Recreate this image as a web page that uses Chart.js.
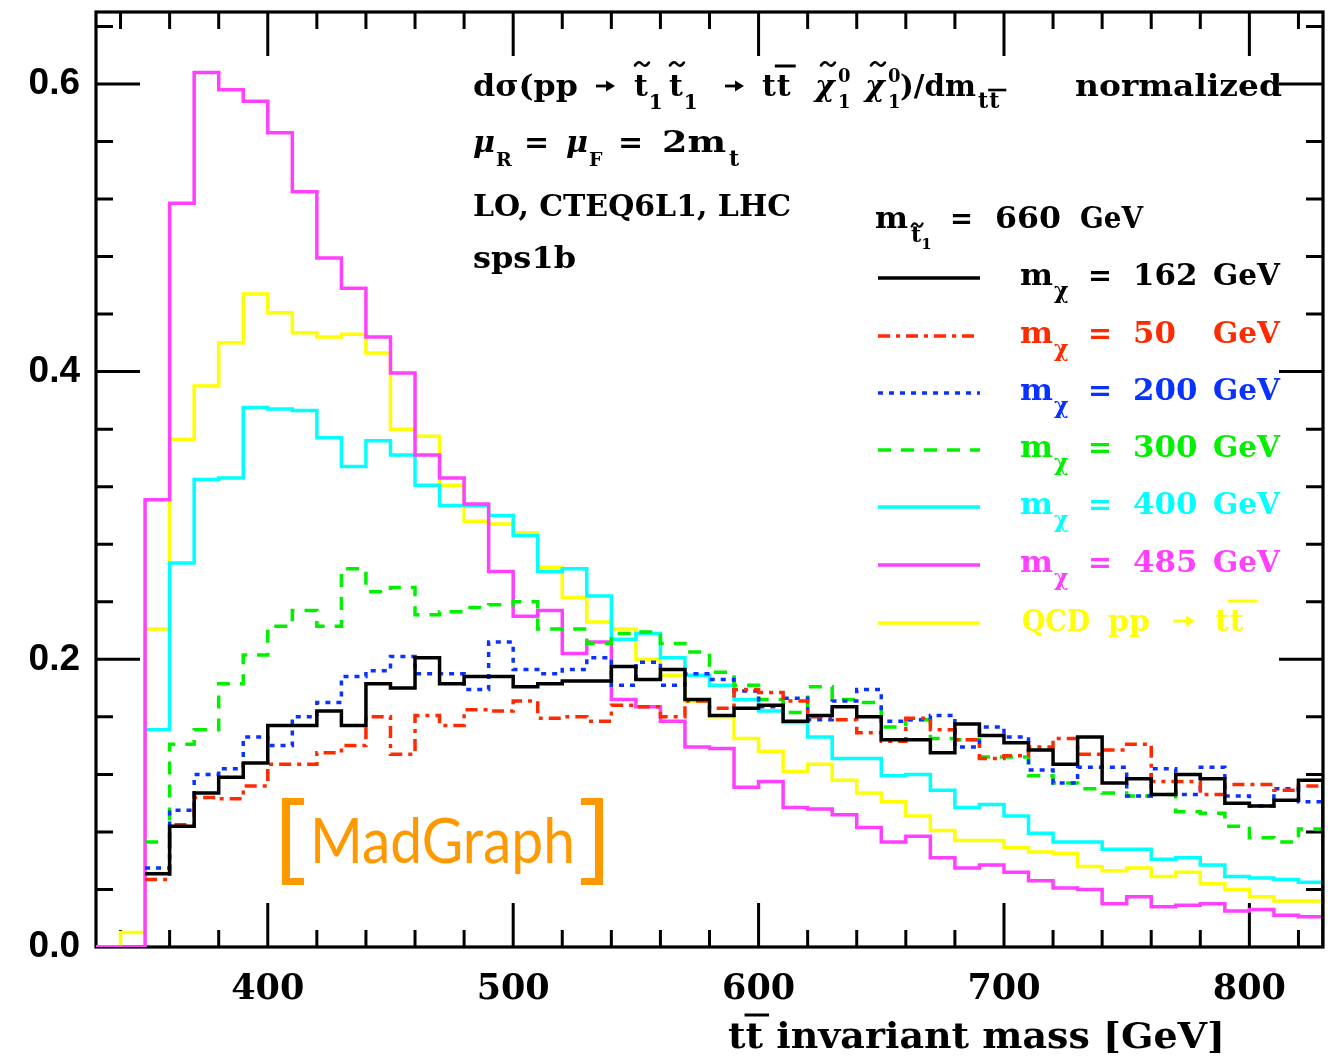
<!DOCTYPE html>
<html>
<head>
<meta charset="utf-8">
<title>tt invariant mass</title>
<script src="https://cdn.jsdelivr.net/npm/chart.js@4.4.1/dist/chart.umd.min.js"></script>
<style>
html,body{margin:0;padding:0;background:#fff;}
#c{display:block;}
</style>
</head>
<body>
<canvas id="c" width="1328" height="1060"></canvas>
<script>
// ---------------- data ----------------
const binLowEdges = [330,340,350,360,370,380,390,400,410,420,430,440,450,460,470,480,490,500,510,520,530,540,550,560,570,580,590,600,610,620,630,640,650,660,670,680,690,700,710,720,730,740,750,760,770,780,790,800,810,820];
const lastBinHighEdge = 830;

const mchi162 = [null,null,0.051,0.084,0.107,0.118,0.128,0.154,0.154,0.164,0.154,0.183,0.180,0.201,0.183,0.188,0.188,0.181,0.183,0.185,0.185,0.195,0.186,0.193,0.172,0.161,0.166,0.168,0.157,0.161,0.167,0.160,0.144,0.144,0.135,0.155,0.147,0.142,0.137,0.127,0.146,0.114,0.117,0.106,0.120,0.117,0.100,0.098,0.102,0.116];
const mchi50  = [null,null,0.047,0.085,0.104,0.103,0.112,0.127,0.127,0.135,0.140,0.160,0.134,0.161,0.154,0.165,0.164,0.171,0.159,0.160,0.157,0.168,0.167,0.160,0.171,0.166,0.179,0.177,0.171,0.160,0.158,0.149,0.143,0.159,0.151,0.144,0.131,0.133,0.139,0.145,0.134,0.137,0.141,0.115,0.115,0.106,0.113,0.113,0.109,0.112];
const mchi200 = [null,null,0.055,0.095,0.120,0.124,0.146,0.140,0.160,0.170,0.188,0.192,0.202,0.190,0.190,0.179,0.212,0.193,0.190,0.193,0.201,0.182,0.198,0.182,0.190,0.186,0.178,0.167,0.173,0.158,0.171,0.179,0.157,0.158,0.161,0.139,0.153,0.146,0.123,0.114,0.125,0.125,0.105,0.124,0.106,0.125,0.105,0.098,0.110,0.101];
const mchi300 = [null,null,0.073,0.141,0.151,0.183,0.203,0.223,0.234,0.223,0.263,0.247,0.250,0.231,0.233,0.236,0.238,0.240,0.221,0.221,0.211,0.218,0.219,0.211,0.205,0.191,0.182,0.172,0.163,0.181,0.172,0.170,0.153,0.158,0.145,0.144,0.132,0.132,0.119,0.114,0.110,0.107,0.105,0.106,0.094,0.093,0.084,0.076,0.073,0.082];
const mchi400 = [null,null,0.151,0.267,0.325,0.326,0.375,0.374,0.373,0.354,0.334,0.352,0.342,0.321,0.307,0.307,0.300,0.286,0.261,0.263,0.244,0.214,0.218,0.201,0.189,0.182,0.172,0.164,0.156,0.146,0.131,0.131,0.119,0.120,0.109,0.097,0.099,0.091,0.079,0.073,0.073,0.068,0.068,0.061,0.062,0.057,0.049,0.048,0.047,0.045];
const mchi485 = [0,0,0.311,0.517,0.608,0.596,0.588,0.566,0.525,0.479,0.458,0.424,0.399,0.342,0.326,0.308,0.261,0.230,0.234,0.204,0.212,0.172,0.167,0.157,0.139,0.138,0.111,0.115,0.097,0.096,0.092,0.083,0.073,0.077,0.062,0.055,0.057,0.052,0.046,0.041,0.040,0.030,0.035,0.028,0.029,0.030,0.025,0.026,0.022,0.021];
const qcdTT   = [0,0.010,0.221,0.353,0.390,0.420,0.454,0.441,0.427,0.424,0.426,0.413,0.360,0.355,0.321,0.296,0.294,0.288,0.264,0.243,0.226,0.221,0.200,0.189,0.171,0.160,0.145,0.136,0.122,0.127,0.116,0.107,0.101,0.091,0.081,0.074,0.074,0.069,0.066,0.065,0.056,0.053,0.055,0.049,0.052,0.044,0.040,0.035,0.032,0.032];

const xTickValues = [400,500,600,700,800];
const yTickValues = [0.0,0.2,0.4,0.6];
const legendMasses = ['162','50','200','300','400','485'];

// ---------------- helpers ----------------
function histPoints(vals){
  const pts = [];
  for (let i = 0; i < binLowEdges.length; i++) pts.push({x: binLowEdges[i], y: vals[i]});
  pts.push({x: lastBinHighEdge, y: 0});
  return pts;
}

const series = [
  {vals: mchi162, color: '#000000', dash: [],            order: 0},
  {vals: mchi50,  color: '#ff2a00', dash: [12, 6, 4, 6], order: 1},
  {vals: mchi200, color: '#0a32ff', dash: [5, 6],        order: 2},
  {vals: mchi300, color: '#00f000', dash: [13, 10],      order: 3},
  {vals: mchi400, color: '#00ffff', dash: [],            order: 5},
  {vals: mchi485, color: '#ff40ff', dash: [],            order: 4},
  {vals: qcdTT,   color: '#ffff00', dash: [],            order: 6}
];

const SERIF = '"DejaVu Serif", "Liberation Serif", serif';

function txt(ctx, s, x, y, o){
  o = o || {};
  const size = o.size || 30;
  ctx.save();
  ctx.font = (o.style || 'normal') + ' ' + (o.weight || 'bold') + ' ' + size + 'px ' + (o.family || SERIF);
  ctx.fillStyle = o.color || '#000';
  ctx.textAlign = 'left';
  ctx.textBaseline = 'alphabetic';
  const w0 = ctx.measureText(s).width;
  const sx = o.width ? o.width / w0 : (o.sx || 1);
  ctx.translate(x, y);
  ctx.scale(sx, 1);
  ctx.fillText(s, 0, 0);
  ctx.restore();
  return w0 * sx;
}
function tilde(ctx, cx, cy, w, color, lw){
  ctx.save();
  ctx.strokeStyle = color || '#000';
  ctx.lineWidth = lw || 2.6;
  ctx.lineCap = 'round';
  ctx.beginPath();
  ctx.moveTo(cx - w/2, cy + 1.5);
  ctx.quadraticCurveTo(cx - w/4, cy - 4, cx, cy);
  ctx.quadraticCurveTo(cx + w/4, cy + 4, cx + w/2, cy - 1.5);
  ctx.stroke();
  ctx.restore();
}
function bar(ctx, x1, x2, yy, color, lw){
  ctx.save();
  ctx.strokeStyle = color || '#000';
  ctx.lineWidth = lw || 3;
  ctx.beginPath(); ctx.moveTo(x1, yy); ctx.lineTo(x2, yy); ctx.stroke();
  ctx.restore();
}
function arrow(ctx, x, yy, w, color){
  ctx.save();
  ctx.strokeStyle = color || '#000';
  ctx.fillStyle = color || '#000';
  ctx.lineWidth = 2.8;
  ctx.beginPath(); ctx.moveTo(x, yy); ctx.lineTo(x + w - 6, yy); ctx.stroke();
  ctx.beginPath(); ctx.moveTo(x + w - 9, yy - 5.5); ctx.lineTo(x + w, yy); ctx.lineTo(x + w - 9, yy + 5.5); ctx.closePath(); ctx.fill();
  ctx.restore();
}

// ---------------- decoration plugin ----------------
const decoPlugin = {
  id: 'deco',
  beforeDatasetsDraw(chart){
    const ctx = chart.ctx;
    const {left, right, top, bottom} = chart.chartArea;
    const xs = chart.scales.x, ys = chart.scales.y;
    ctx.save();
    ctx.strokeStyle = '#000';
    ctx.lineWidth = 3.2;
    ctx.strokeRect(left, top, right - left, bottom - top);
    ctx.lineWidth = 3;
    ctx.beginPath();
    for (let v = 340; v < lastBinHighEdge; v += 20){
      const p = xs.getPixelForValue(v);
      const L = xTickValues.includes(v) ? 44 : 17;
      ctx.moveTo(p, bottom); ctx.lineTo(p, bottom - L);
      ctx.moveTo(p, top); ctx.lineTo(p, top + L);
    }
    for (let k = 1; k <= 16; k++){
      const p = ys.getPixelForValue(k * 0.04);
      const L = (k % 5 === 0) ? 44 : 17;
      ctx.moveTo(left, p); ctx.lineTo(left + L, p);
      ctx.moveTo(right, p); ctx.lineTo(right - L, p);
    }
    ctx.stroke();
    ctx.restore();
  },
  afterDatasetsDraw(chart){
    const ctx = chart.ctx;
    // ---- title line 1 ----
    let y1 = 96, w;
    txt(ctx, 'dσ(pp', 473, y1, {width: 105});
    arrow(ctx, 596, 86, 19);
    w = txt(ctx, 't', 634, y1); tilde(ctx, 634 + w/2 + 1, 64, 14); txt(ctx, '1', 634 + w + 1, 109, {size: 20});
    w = txt(ctx, 't', 669, y1); tilde(ctx, 669 + w/2 + 1, 64, 14); txt(ctx, '1', 669 + w + 1, 109, {size: 20});
    arrow(ctx, 725, 86, 19);
    w = txt(ctx, 't', 762, y1); txt(ctx, 't', 762 + w + 1, y1); bar(ctx, 762 + w - 1, 762 + 2*w + 6, 66);
    txt(ctx, 'χ', 815, y1, {style: 'italic'}); tilde(ctx, 828, 64, 14); txt(ctx, '0', 838, 82, {size: 18}); txt(ctx, '1', 838, 108, {size: 18});
    txt(ctx, 'χ', 865, y1, {style: 'italic'}); tilde(ctx, 878, 64, 14); txt(ctx, '0', 888, 82, {size: 18}); txt(ctx, '1', 888, 108, {size: 18});
    txt(ctx, ')/dm', 900, y1, {width: 76});
    w = txt(ctx, 't', 978, 108, {size: 22}); txt(ctx, 't', 978 + w + 1, 108, {size: 22}); bar(ctx, 978 + w, 978 + 2*w + 8, 90, '#000', 2.6);
    txt(ctx, 'normalized', 1075, y1, {width: 207});
    // ---- line 2 ----
    const y2 = 152;
    txt(ctx, 'μ', 473, y2, {style: 'italic'}); txt(ctx, 'R', 496, 166, {size: 19});
    txt(ctx, '=', 524, y2);
    txt(ctx, 'μ', 566, y2, {style: 'italic'}); txt(ctx, 'F', 589, 166, {size: 19});
    txt(ctx, '=', 618, y2);
    txt(ctx, '2m', 662, y2, {width: 64});
    txt(ctx, 't', 729, 166, {size: 22});
    // ---- lines 3, 4 ----
    txt(ctx, 'LO, CTEQ6L1, LHC', 473, 216, {width: 318});
    txt(ctx, 'sps1b', 473, 268, {width: 103});
    // ---- stop mass ----
    txt(ctx, 'm', 875, 228, {width: 33});
    w = txt(ctx, 't', 911, 242, {size: 22}); tilde(ctx, 911 + w/2 + 1, 225, 11, '#000', 2.2);
    txt(ctx, '1', 911 + w, 249, {size: 15});
    txt(ctx, '=', 950, 228, {width: 23});
    txt(ctx, '660', 995, 228, {width: 66});
    txt(ctx, 'GeV', 1080, 228, {width: 63});
    // ---- legend ----
    const rowY = [278, 336, 393, 450, 507, 565, 623];
    for (let i = 0; i < series.length; i++){
      const s = series[i], ry = rowY[i];
      ctx.save();
      ctx.strokeStyle = s.color; ctx.lineWidth = 3.5; ctx.setLineDash(s.dash); ctx.lineCap = 'butt';
      ctx.beginPath(); ctx.moveTo(878, ry); ctx.lineTo(980, ry); ctx.stroke();
      ctx.restore();
      if (i < legendMasses.length){
        txt(ctx, 'm', 1020, ry + 7, {width: 33, color: s.color});
        txt(ctx, 'χ', 1054, ry + 20, {size: 22, color: s.color});
        txt(ctx, '=', 1088, ry + 7, {width: 24, color: s.color});
        txt(ctx, legendMasses[i], 1133, ry + 7, {width: legendMasses[i].length * 21.5, color: s.color});
        txt(ctx, 'GeV', 1213, ry + 7, {width: 67, color: s.color});
      } else {
        txt(ctx, 'QCD', 1022, ry + 8, {width: 68, color: s.color});
        txt(ctx, 'pp', 1108, ry + 8, {width: 42, color: s.color});
        arrow(ctx, 1173, ry - 2, 22, s.color);
        w = txt(ctx, 't', 1215, ry + 8, {color: s.color}); txt(ctx, 't', 1215 + w + 1, ry + 8, {color: s.color});
        bar(ctx, 1228, 1257, ry - 22, s.color);
      }
    }
    // ---- MadGraph logo ----
    ctx.save();
    ctx.fillStyle = '#ff9900';
    ctx.fillRect(282, 798, 8, 87); ctx.fillRect(282, 798, 22, 7); ctx.fillRect(282, 878, 22, 7);
    ctx.fillRect(595, 798, 8, 87); ctx.fillRect(581, 798, 22, 7); ctx.fillRect(581, 878, 22, 7);
    ctx.restore();
    txt(ctx, 'MadGraph', 310, 863, {family: 'Lato, "Open Sans", sans-serif', weight: 'normal', size: 62, width: 265, color: '#ff9900'});
    // ---- x axis title ----
    const tW = txt(ctx, 'tt invariant mass [GeV]', 728, 1048, {size: 35, width: 497});
    ctx.save();
    ctx.font = 'normal bold 35px ' + SERIF;
    const full = ctx.measureText('tt invariant mass [GeV]').width;
    const one = ctx.measureText('t').width;
    ctx.restore();
    const sc = tW / full;
    bar(ctx, 728 + one * sc - 1, 728 + 2 * one * sc + 6, 1015);
  }
};

// ---------------- chart ----------------
const datasets = series.map(s => ({
  data: histPoints(s.vals),
  borderColor: s.color,
  borderWidth: 3.5,
  borderDash: s.dash,
  borderCapStyle: 'butt',
  stepped: 'before',
  pointRadius: 0,
  fill: false,
  tension: 0,
  order: s.order
}));

new Chart(document.getElementById('c'), {
  type: 'line',
  data: {datasets},
  options: {
    responsive: false,
    animation: false,
    devicePixelRatio: 1,
    layout: {padding: {left: 0, right: 5, top: 12, bottom: 0}},
    plugins: {legend: {display: false}, tooltip: {enabled: false}, title: {display: false}},
    scales: {
      x: {
        type: 'linear', min: 330, max: 830,
        grid: {display: false, drawTicks: false},
        border: {display: false},
        afterBuildTicks: a => { a.ticks = xTickValues.map(v => ({value: v})); },
        afterFit: a => { a.height = 113; a.paddingLeft = 0; a.paddingRight = 0; },
        ticks: {autoSkip: false, maxRotation: 0, padding: 22, color: '#000',
          font: {family: 'DejaVu Serif', weight: 'bold', size: 35},
          callback: v => String(v)}
      },
      y: {
        min: 0, max: 0.65,
        grid: {display: false, drawTicks: false},
        border: {display: false},
        afterBuildTicks: a => { a.ticks = yTickValues.map(v => ({value: v})); },
        afterFit: a => { a.width = 96; a.paddingTop = 0; a.paddingBottom = 0; },
        ticks: {padding: 16, color: '#000',
          font: {family: 'Liberation Sans', weight: 'bold', size: 37},
          callback: v => Number(v).toFixed(1)}
      }
    }
  },
  plugins: [decoPlugin]
});
</script>
</body>
</html>
